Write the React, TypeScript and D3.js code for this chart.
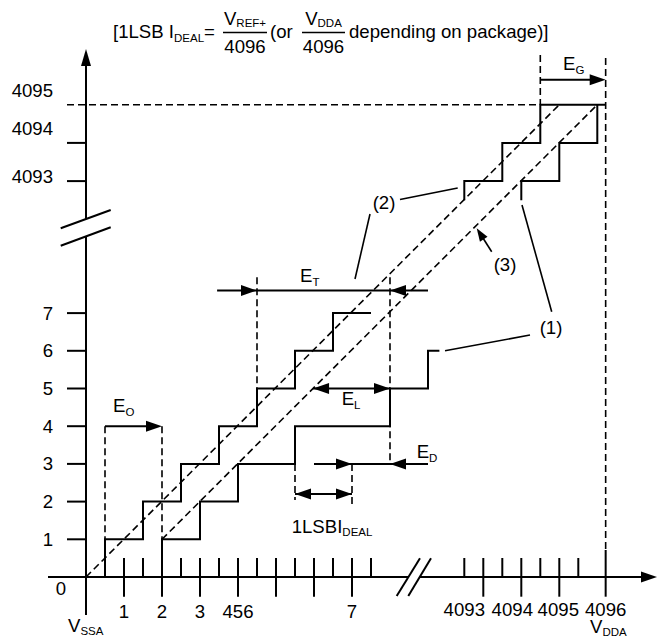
import React from "react";
import * as d3 from "d3";

// ---------------- data ----------------
const yCodesLow = [1, 2, 3, 4, 5, 6, 7];
const yCodesHigh = [4093, 4094];
const fullScaleCode = 4095;
const yLabelsHigh = ["4093", "4094", "4095"];
const xMajorLow = [1, 2, 3, 4, 5, 6, 7];
const xMinorLow = [1.5, 2.5, 3.5, 4.5, 5.5, 6.5, 7.5];
const xMajorHigh = [4093, 4094, 4095];
const xMinorHigh = [4092.5, 4093.5, 4094.5, 4095.5];
const xLabelValuesLow = [1, 2, 3, 4, 7];
const xLabelTextsLow = ["1", "2", "3", "456", "7"];
const xLabelValuesHigh = [4093, 4094, 4095];
const xLabelTextsHigh = ["4093", "4094", "4095", "4096"];
const vddaValue = 4096.22;

// transfer curves (code transitions in LSB units)
const idealLowTransitions = [0.5, 1.5, 2.5, 3.5, 4.5, 5.5, 6.5];
const idealLowEnd = 7.5;
const actualLowTransitions = [2, 3, 4, 5.5, 8, 9];
const actualLowEnd = 9.3;
const idealHighTransitions = [4092.5, 4093.5, 4094.5];
const idealHighCodes = [4093, 4094, 4095];
const actualHighTransitions = [4094, 4095, 4096];
const actualHighCodes = [4093, 4094, 4095];
const highStartCode = 4092.5;

// ---------------- helpers ----------------
type P = [number, number];
function stairs(trans: number[], codes: number[], start: number, end: number): P[] {
  const pts: P[] = [[trans[0], start]];
  trans.forEach((t, i) => {
    pts.push([t, codes[i]]);
    const nx = i < trans.length - 1 ? trans[i + 1] : end;
    pts.push([nx, codes[i]]);
  });
  return pts;
}

const FONT = "'Liberation Sans', Arial, Helvetica, sans-serif";
const FS = 18.6;
const SUB = 11.5;
const SW = 2;
const DSW = 1.6;
const DASH = "7 4";

function Arrow({ tip, dir, len = 16, hw = 5.5 }: { tip: P; dir: P; len?: number; hw?: number }) {
  const m = Math.hypot(dir[0], dir[1]);
  const ux = dir[0] / m, uy = dir[1] / m;
  const bx = tip[0] - ux * len, by = tip[1] - uy * len;
  const pts = [
    [tip[0], tip[1]],
    [bx - uy * hw, by + ux * hw],
    [bx + uy * hw, by - ux * hw],
  ];
  return <polygon points={pts.map((p) => p.join(",")).join(" ")} fill="#000" />;
}

function Seg({ a, b, dashed = false, w }: { a: P; b: P; dashed?: boolean; w?: number }) {
  return (
    <line
      x1={a[0]} y1={a[1]} x2={b[0]} y2={b[1]}
      stroke="#000"
      strokeWidth={w ?? (dashed ? DSW : SW)}
      strokeDasharray={dashed ? DASH : undefined}
    />
  );
}

function ELabel({ x, y, sub }: { x: number; y: number; sub: string }) {
  return (
    <text x={x} y={y} fontSize={FS} fontFamily={FONT}>
      E<tspan fontSize={SUB} dy={4}>{sub}</tspan>
    </text>
  );
}

export default function App() {
  const W = 658, H = 636;
  const xLo = d3.scaleLinear().domain([0, 1]).range([86, 124]);
  const yLo = d3.scaleLinear().domain([0, 1]).range([577, 539.3]);
  const xHi = d3.scaleLinear().domain([4093, 4094]).range([483.3, 521.3]);
  const yHi = d3.scaleLinear().domain([4094, 4095]).range([142.9, 104.7]);

  const line = d3.line<P>();
  const lo = (p: P): P => [xLo(p[0]), yLo(p[1])];
  const hi = (p: P): P => [xHi(p[0]), yHi(p[1])];

  const lowCodes = (n: number) => d3.range(1, n + 1);
  const idealLow = stairs(idealLowTransitions, lowCodes(idealLowTransitions.length), 0, idealLowEnd).map(lo);
  const actualLow = stairs(actualLowTransitions, lowCodes(actualLowTransitions.length), 0, actualLowEnd).map(lo);
  const idealHigh = stairs(idealHighTransitions, idealHighCodes, highStartCode, vddaValue).map(hi);
  const actualHigh = stairs(actualHighTransitions, actualHighCodes, highStartCode, 4096).map(hi);

  const axX = xLo(0), axY = yLo(0);
  const xV = xHi(vddaValue);

  // dashed straight lines
  const l2a: P = lo([0, 0]), l2b: P = hi([4095, 4095]);
  const l3a: P = lo([2, 1]), l3b: P = hi([4096, 4095]);
  const xOnL3 = (y: number) => l3a[0] + ((y - l3a[1]) * (l3b[0] - l3a[0])) / (l3b[1] - l3a[1]);

  // annotation levels
  const yET = yLo(7.6);
  const yETtop = yLo(7.95);
  const y1LSB = yLo(2.2);
  const yEG = yHi(4095.65);

  // axis break points
  const yBreak1: [P, P] = [[60.7, 228.3], [110.7, 210]];
  const yBreak2: [P, P] = [[60.7, 245.7], [110.7, 227.3]];
  const xBreak1: [P, P] = [[396.7, 596], [420, 558.3]];
  const xBreak2: [P, P] = [[408.3, 596], [431, 558.3]];
  const interY = (s: [P, P], x: number) => s[0][1] + ((x - s[0][0]) * (s[1][1] - s[0][1])) / (s[1][0] - s[0][0]);
  const interX = (s: [P, P], y: number) => s[0][0] + ((y - s[0][1]) * (s[1][0] - s[0][0])) / (s[1][1] - s[0][1]);

  const tickTop = axY - 19;
  const tickBot = axY + 19.7;
  const hiLabelShift = [-19, -9, -1];
  const hiYLabelShift = [2, -8, -8];

  return (
    <svg width={W} height={H} viewBox={`0 0 ${W} ${H}`} style={{ position: "absolute", left: 0, top: 0, background: "#fff" }}>
      <rect width={W} height={H} fill="#fff" />

      {/* ---------- title ---------- */}
      <g fontFamily={FONT} fill="#000">
        <text x={113} y={38} fontSize={FS}>
          [1LSB I<tspan fontSize={SUB} dy={4}>DEAL</tspan>
          <tspan fontSize={FS} dy={-4}>=</tspan>
        </text>
        <text x={245} y={25} fontSize={FS} textAnchor="middle">
          V<tspan fontSize={SUB} dy={2}>REF+</tspan>
        </text>
        <line x1={223} x2={267} y1={32.5} y2={32.5} stroke="#000" strokeWidth={1.5} />
        <text x={245} y={53} fontSize={FS} textAnchor="middle">4096</text>
        <text x={270} y={38} fontSize={FS}>(or</text>
        <text x={323.5} y={25} fontSize={FS} textAnchor="middle">
          V<tspan fontSize={SUB} dy={2}>DDA</tspan>
        </text>
        <line x1={302} x2={345} y1={32.5} y2={32.5} stroke="#000" strokeWidth={1.5} />
        <text x={323.5} y={53} fontSize={FS} textAnchor="middle">4096</text>
        <text x={349} y={38} fontSize={FS}>depending on package)]</text>
      </g>

      {/* ---------- axes ---------- */}
      <Seg a={[axX, 65]} b={[axX, interY(yBreak1, axX)]} />
      <Seg a={[axX, interY(yBreak2, axX)]} b={[axX, 615]} />
      <Arrow tip={[axX, 49]} dir={[0, -1]} len={17} hw={5} />
      <Seg a={yBreak1[0]} b={yBreak1[1]} />
      <Seg a={yBreak2[0]} b={yBreak2[1]} />

      <Seg a={[48, axY]} b={[interX(xBreak1, axY), axY]} />
      <Seg a={[interX(xBreak2, axY), axY]} b={[645, axY]} />
      <Arrow tip={[657, axY]} dir={[1, 0]} len={16} hw={5.5} />
      <Seg a={xBreak1[0]} b={xBreak1[1]} />
      <Seg a={xBreak2[0]} b={xBreak2[1]} />

      {/* y ticks */}
      {yCodesLow.map((c) => (
        <Seg key={"yl" + c} a={[67, yLo(c)]} b={[axX, yLo(c)]} />
      ))}
      {yCodesHigh.map((c) => (
        <Seg key={"yh" + c} a={[67, yHi(c)]} b={[axX, yHi(c)]} />
      ))}
      {/* 4095 dashed level */}
      <Seg a={[67, yHi(fullScaleCode)]} b={[xHi(4094.5), yHi(fullScaleCode)]} dashed />

      {/* x ticks */}
      {xMajorLow.map((v) => (
        <Seg key={"xM" + v} a={[xLo(v), tickTop]} b={[xLo(v), tickBot]} />
      ))}
      {xMinorLow.map((v) => (
        <Seg key={"xm" + v} a={[xLo(v), tickTop]} b={[xLo(v), axY]} />
      ))}
      {xMajorHigh.map((v) => (
        <Seg key={"xH" + v} a={[xHi(v), tickTop]} b={[xHi(v), tickBot]} />
      ))}
      {xMinorHigh.map((v) => (
        <Seg key={"xh" + v} a={[xHi(v), tickTop]} b={[xHi(v), axY]} />
      ))}
      <Seg a={[xV, 550]} b={[xV, tickBot]} />

      {/* ---------- labels ---------- */}
      <g fontFamily={FONT} fontSize={FS} fill="#000">
        {yCodesLow.map((c) => (
          <text key={"tyl" + c} x={53} y={yLo(c) + 6.5} textAnchor="end">{c}</text>
        ))}
        {[...yCodesHigh, fullScaleCode].map((c, i) => (
          <text key={"tyh" + c} x={53} y={yHi(c) + hiYLabelShift[i]} textAnchor="end">{yLabelsHigh[i]}</text>
        ))}
        <text x={61} y={595} textAnchor="middle">0</text>
        {xLabelValuesLow.map((v, i) => (
          <text key={"txl" + v} x={xLo(v)} y={618} textAnchor="middle">{xLabelTextsLow[i]}</text>
        ))}
        {xLabelValuesHigh.map((v, i) => (
          <text key={"txh" + v} x={xHi(v) + hiLabelShift[i]} y={616} textAnchor="middle">{xLabelTextsHigh[i]}</text>
        ))}
        <text x={xV} y={616} textAnchor="middle">{xLabelTextsHigh[3]}</text>
        <text x={68} y={632}>
          V<tspan fontSize={SUB} dy={3}>SSA</tspan>
        </text>
        <text x={590} y={633}>
          V<tspan fontSize={SUB} dy={3}>DDA</tspan>
        </text>
      </g>

      {/* ---------- dashed straight lines ---------- */}
      <Seg a={l2a} b={l2b} dashed />
      <Seg a={l3a} b={l3b} dashed />

      {/* ---------- staircases ---------- */}
      <path d={line(idealLow) ?? ""} fill="none" stroke="#000" strokeWidth={SW} />
      <path d={line(actualLow) ?? ""} fill="none" stroke="#000" strokeWidth={SW} />
      <path d={line(idealHigh) ?? ""} fill="none" stroke="#000" strokeWidth={SW} />
      <path d={line(actualHigh) ?? ""} fill="none" stroke="#000" strokeWidth={SW} />

      {/* ---------- E_O ---------- */}
      <Seg a={[xLo(0.5), yLo(4)]} b={[xLo(0.5), yLo(1)]} dashed />
      <Seg a={[xLo(2), yLo(4)]} b={[xLo(2), yLo(1)]} dashed />
      <Seg a={[xLo(0.5), yLo(4)]} b={[xLo(2) - 8, yLo(4)]} />
      <Arrow tip={[xLo(2), yLo(4)]} dir={[1, 0]} />
      <ELabel x={113} y={411.5} sub="O" />

      {/* ---------- E_T ---------- */}
      <Seg a={[xLo(4.5), yETtop]} b={[xLo(4.5), yLo(5)]} dashed />
      <Seg a={[xLo(8), yETtop]} b={[xLo(8), yLo(3)]} dashed />
      <Seg a={[xLo(3.45), yET]} b={[xLo(9), yET]} />
      <Arrow tip={[xLo(4.5), yET]} dir={[1, 0]} />
      <Arrow tip={[xLo(8), yET]} dir={[-1, 0]} />
      <ELabel x={300} y={281.5} sub="T" />
      <Seg a={[xLo(8), yLo(4)]} b={[xLo(8), yLo(5)]} />

      {/* ---------- E_L ---------- */}
      <Seg a={[xOnL3(yLo(5)), yLo(5)]} b={[xLo(8), yLo(5)]} />
      <Arrow tip={[xOnL3(yLo(5)), yLo(5)]} dir={[-1, 0]} />
      <Arrow tip={[xLo(8), yLo(5)]} dir={[1, 0]} />
      <ELabel x={341.7} y={405} sub="L" />

      {/* ---------- E_D and 1LSB ---------- */}
      <Seg a={[xLo(5.5), yLo(3)]} b={[xLo(5.5), yLo(2.04)]} dashed />
      <Seg a={[xLo(7), yLo(3)]} b={[xLo(7), yLo(1.87)]} dashed />
      <Seg a={[xLo(6), yLo(3)]} b={[xLo(9), yLo(3)]} />
      <Arrow tip={[xLo(7), yLo(3)]} dir={[1, 0]} />
      <Arrow tip={[xLo(8), yLo(3)]} dir={[-1, 0]} />
      <ELabel x={416.7} y={458} sub="D" />
      <Seg a={[xLo(5.5), y1LSB]} b={[xLo(7), y1LSB]} />
      <Arrow tip={[xLo(5.5), y1LSB]} dir={[-1, 0]} />
      <Arrow tip={[xLo(7), y1LSB]} dir={[1, 0]} />
      <text x={291.7} y={533} fontSize={FS} fontFamily={FONT}>
        1LSBI<tspan fontSize={SUB} dy={3}>DEAL</tspan>
      </text>

      {/* ---------- E_G ---------- */}
      <Seg a={[xHi(4094.5), 55]} b={[xHi(4094.5), yHi(4095)]} dashed />
      <Seg a={[xV, 58]} b={[xV, 550]} dashed />
      <Seg a={[xHi(4094.5), yEG]} b={[xV - 8, yEG]} />
      <Arrow tip={[xV, yEG]} dir={[1, 0]} />
      <ELabel x={563} y={70} sub="G" />

      {/* ---------- callouts ---------- */}
      <g fontFamily={FONT} fontSize={FS} fill="#000">
        <text x={384} y={209} textAnchor="middle">(2)</text>
        <text x={551} y={334} textAnchor="middle">(1)</text>
        <text x={505} y={271} textAnchor="middle">(3)</text>
      </g>
      <Seg a={[400, 199.5]} b={[457.7, 188]} w={1.6} />
      <Seg a={[370, 214]} b={[355, 279]} w={1.6} />
      <Seg a={[522, 205]} b={[551.7, 311.7]} w={1.6} />
      <Seg a={[530, 335]} b={[445, 350.7]} w={1.6} />
      <Seg a={[491.7, 251.7]} b={[482, 236.5]} w={1.6} />
      <Arrow tip={[476.7, 228.3]} dir={[476.7 - 491.7, 228.3 - 251.7]} len={13} hw={4.5} />
    </svg>
  );
}
